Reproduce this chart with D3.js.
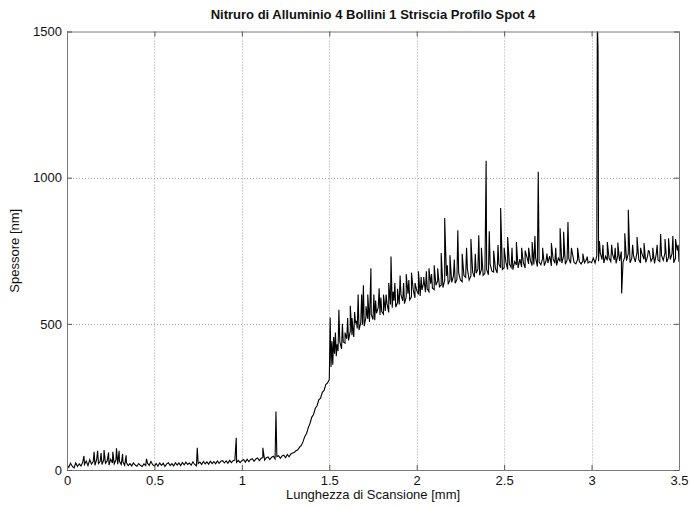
<!DOCTYPE html>
<html>
<head>
<meta charset="utf-8">
<script src="https://cdn.jsdelivr.net/npm/d3@7"></script>
<style>
  body { margin: 0; background: #fff; }
  text { font-family: "Liberation Sans", Arial, Helvetica, sans-serif; }
</style>
</head>
<body>
<svg id="chart" width="690" height="508"></svg>
<script>
// Thickness profile sampled every 0.01 mm along the scan (nm)
const scanStep = 0.01;
const baseProfile = [
  18, 9, 23, 13, 7, 24, 12, 21, 14, 27,
  19, 31, 15, 35, 20, 29, 16, 37, 22, 30,
  19, 34, 23, 31, 17, 37, 24, 21, 35, 20,
  30, 19, 28, 16, 25, 15, 22, 14, 24, 17,
  13, 22, 16, 12, 21, 15, 24, 16, 29, 18,
  14, 22, 13, 24, 16, 23, 12, 21, 25, 15,
  22, 14, 25, 17, 24, 15, 26, 18, 27, 19,
  24, 16, 28, 19, 14, 22, 27, 19, 29, 21,
  28, 20, 30, 22, 29, 21, 31, 23, 30, 32,
  24, 31, 23, 33, 25, 32, 34, 26, 33, 25,
  32, 36, 27, 37, 29, 36, 39, 30, 38, 41,
  32, 40, 43, 34, 42, 45, 36, 44, 47, 38,
  46, 49, 40, 48, 51, 42, 53, 45, 55, 58,
  60, 66, 69, 78, 84, 97, 115, 125, 145, 160,
  181, 190, 211, 220, 240, 246, 266, 272, 292, 298,
  310, 352, 360, 398, 389, 407, 440, 414, 438, 434,
  449, 443, 475, 461, 455, 502, 484, 479, 504, 497,
  492, 525, 517, 506, 532, 515, 512, 536, 556, 530,
  542, 533, 544, 569, 539, 566, 555, 579, 557, 572,
  566, 600, 579, 569, 592, 603, 582, 592, 616, 589,
  615, 600, 595, 616, 642, 608, 620, 610, 637, 622,
  617, 632, 648, 627, 633, 624, 649, 664, 635, 650,
  642, 663, 639, 652, 674, 650, 644, 665, 659, 687,
  650, 664, 677, 659, 673, 688, 666, 686, 666, 673,
  686, 668, 704, 680, 677, 690, 674, 704, 692, 686,
  692, 711, 686, 705, 693, 685, 713, 701, 691, 721,
  694, 709, 691, 729, 705, 717, 699, 703, 725, 696,
  711, 702, 724, 699, 717, 708, 732, 698, 722, 707,
  700, 725, 713, 708, 732, 704, 718, 723, 707, 742,
  710, 705, 720, 713, 705, 715, 709, 719, 708, 713,
  709, 725, 708, 733, 714, 742, 720, 708, 731, 717,
  725, 713, 738, 719, 707, 734, 715, 747, 711, 729,
  716, 741, 709, 724, 733, 712, 745, 720, 708, 736,
  721, 710, 731, 748, 714, 726, 707, 739, 718, 713,
  734, 717, 743, 711, 728, 720, 740, 709, 725, 751,
  712
];

// Isolated peaks between the regular samples: [position mm, thickness nm]
const peaks = [
  [0.097, 48], [0.155, 62], [0.175, 66], [0.195, 58], [0.212, 68], [0.238, 60],
  [0.262, 62], [0.283, 74], [0.298, 66], [0.318, 55], [0.338, 50], [0.455, 38],
  [0.745, 76], [0.968, 110], [1.12, 76], [1.195, 200],
  [1.505, 522], [1.515, 440], [1.525, 455], [1.535, 470], [1.545, 430], [1.555, 548],
  [1.575, 500], [1.59, 470], [1.605, 520], [1.62, 562], [1.63, 520], [1.645, 540],
  [1.655, 510], [1.665, 600], [1.685, 600], [1.695, 632], [1.71, 560], [1.72, 600],
  [1.738, 690], [1.755, 600], [1.765, 580], [1.785, 622], [1.795, 590], [1.81, 600],
  [1.825, 600], [1.84, 640], [1.853, 730], [1.865, 610], [1.875, 640], [1.89, 620],
  [1.905, 665], [1.925, 640], [1.94, 670], [1.955, 650], [1.97, 675], [1.99, 640],
  [2.01, 680], [2.025, 660], [2.04, 660], [2.055, 680], [2.07, 690], [2.085, 670],
  [2.10, 700], [2.12, 690], [2.14, 742], [2.16, 862], [2.175, 700], [2.19, 735],
  [2.215, 720], [2.235, 820], [2.26, 740], [2.285, 760], [2.31, 790], [2.335, 740],
  [2.355, 803], [2.37, 760], [2.397, 1058], [2.415, 817], [2.44, 750], [2.465, 770],
  [2.48, 896], [2.50, 760], [2.52, 797], [2.545, 760], [2.57, 780], [2.60, 760],
  [2.62, 750], [2.64, 760], [2.66, 780], [2.676, 800], [2.695, 1020], [2.72, 760],
  [2.745, 740], [2.77, 776], [2.795, 760], [2.82, 827], [2.84, 815], [2.865, 848],
  [2.885, 760], [2.92, 760], [2.95, 740], [2.975, 730],
  [3.033, 1560], [3.037, 1432], [3.045, 783], [3.065, 770], [3.09, 780], [3.115, 770],
  [3.135, 760], [3.15, 778], [3.172, 604], [3.19, 810], [3.21, 890], [3.235, 770],
  [3.26, 797], [3.28, 760], [3.30, 776], [3.325, 750], [3.35, 760], [3.375, 770],
  [3.395, 807], [3.42, 790], [3.44, 793], [3.465, 800], [3.48, 790], [3.495, 770]
];

const xTicks = [0, 0.5, 1, 1.5, 2, 2.5, 3, 3.5];
const yTicks = [0, 500, 1000, 1500];
const titleText = "Nitruro di Alluminio 4 Bollini 1 Striscia Profilo Spot 4";
const xLabelText = "Lunghezza di Scansione [mm]";
const yLabelText = "Spessore [nm]";

const svg = d3.select("#chart");
const plot = { left: 67, right: 679, top: 31.5, bottom: 470 };

const x = d3.scaleLinear().domain([0, 3.5]).range([plot.left, plot.right]);
const y = d3.scaleLinear().domain([0, 1500]).range([plot.bottom, plot.top]);

// merge regular samples and peaks into one ordered trace
const trace = baseProfile.map((v, i) => [+(i * scanStep).toFixed(3), v])
  .concat(peaks)
  .sort((a, b) => a[0] - b[0]);

svg.append("rect")
  .attr("x", 0).attr("y", 0).attr("width", 690).attr("height", 508)
  .attr("fill", "#fff");

// dotted grid
const grid = svg.append("g").attr("stroke", "#a8a8a8").attr("stroke-width", 1)
  .attr("stroke-dasharray", "1,2");
grid.selectAll(".gx").data(xTicks.slice(1, -1)).join("line")
  .attr("x1", d => Math.round(x(d)) + 0.5).attr("x2", d => Math.round(x(d)) + 0.5)
  .attr("y1", plot.top).attr("y2", plot.bottom);
grid.selectAll(".gy").data(yTicks.slice(1, -1)).join("line")
  .attr("y1", d => Math.round(y(d)) + 0.5).attr("y2", d => Math.round(y(d)) + 0.5)
  .attr("x1", plot.left).attr("x2", plot.right);

// data line, clipped to the axes box
svg.append("clipPath").attr("id", "clip").append("rect")
  .attr("x", plot.left).attr("y", plot.top)
  .attr("width", plot.right - plot.left).attr("height", plot.bottom - plot.top);

svg.append("path")
  .datum(trace)
  .attr("clip-path", "url(#clip)")
  .attr("fill", "none")
  .attr("stroke", "#000")
  .attr("stroke-width", 1.1)
  .attr("stroke-linejoin", "miter")
  .attr("d", d3.line().x(d => x(d[0])).y(d => y(d[1])));

// axes with inward ticks on all four sides
const fmtX = d3.format("");
const axisColor = "#7a7a7a";
function styleAxis(g) {
  g.select(".domain").attr("stroke", axisColor);
  g.selectAll(".tick line").attr("stroke", "#555");
  g.selectAll(".tick text").attr("fill", "#111")
    .style("font-family", "'Liberation Sans', Arial, Helvetica, sans-serif")
    .style("font-size", "13px");
}

svg.append("g")
  .attr("transform", `translate(0,${plot.bottom})`)
  .call(d3.axisBottom(x).tickValues(xTicks).tickFormat(d => fmtX(d))
    .tickSizeInner(-5).tickSizeOuter(0).tickPadding(6))
  .call(styleAxis);

svg.append("g")
  .attr("transform", `translate(0,${plot.top})`)
  .call(d3.axisTop(x).tickValues(xTicks).tickFormat("")
    .tickSizeInner(-5).tickSizeOuter(0))
  .call(styleAxis);

svg.append("g")
  .attr("transform", `translate(${plot.left},0)`)
  .call(d3.axisLeft(y).tickValues(yTicks).tickFormat(d3.format("d"))
    .tickSizeInner(-5).tickSizeOuter(0).tickPadding(5))
  .call(styleAxis);

svg.append("g")
  .attr("transform", `translate(${plot.right},0)`)
  .call(d3.axisRight(y).tickValues(yTicks).tickFormat("")
    .tickSizeInner(-5).tickSizeOuter(0))
  .call(styleAxis);

// titles
svg.append("text")
  .attr("x", (plot.left + plot.right) / 2).attr("y", 19)
  .attr("text-anchor", "middle")
  .attr("font-size", 13).attr("font-weight", "bold").attr("fill", "#111")
  .text(titleText);

svg.append("text")
  .attr("x", (plot.left + plot.right) / 2).attr("y", 499)
  .attr("text-anchor", "middle")
  .attr("font-size", 13).attr("fill", "#111")
  .text(xLabelText);

svg.append("text")
  .attr("transform", `translate(19,${(plot.top + plot.bottom) / 2}) rotate(-90)`)
  .attr("text-anchor", "middle")
  .attr("font-size", 13).attr("fill", "#111")
  .text(yLabelText);
</script>
</body>
</html>
